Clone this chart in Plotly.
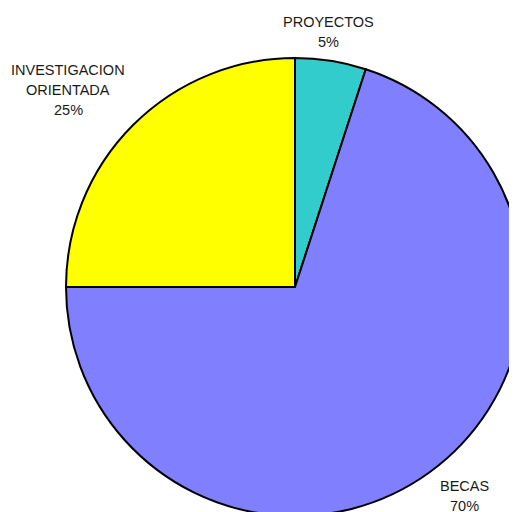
import plotly.graph_objects as go

categories = ["PROYECTOS", "BECAS", "INVESTIGACION ORIENTADA"]
values = [5, 70, 25]
colors = ["#33CCCC", "#8080FF", "#FFFF00"]
label_lines = [["PROYECTOS"], ["BECAS"], ["INVESTIGACION", "ORIENTADA"]]

W, H = 530, 530
OFF = 8  # page body margin offset
cx, cy, r = 295 - OFF, 287 - OFF, 229

fig = go.Figure(go.Pie(
    labels=categories,
    values=values,
    marker=dict(colors=colors, line=dict(color="black", width=2)),
    sort=False,
    direction="clockwise",
    rotation=0,
    textinfo="none",
    hoverinfo="label+percent",
    domain=dict(x=[(cx - r) / W, (cx + r) / W], y=[1 - (cy + r) / H, 1 - (cy - r) / H]),
))

# label anchor positions (pixel centers of first line, in page pixels)
label_pos = [(328, 22), (464, 486), (68, 70)]
line_gap = 20
total = sum(values)
annotations = []
for lines, v, (lx, ly) in zip(label_lines, values, label_pos):
    all_lines = lines + [f"{round(100 * v / total)}%"]
    for i, t in enumerate(all_lines):
        y = ly + i * line_gap - OFF
        annotations.append(dict(
            text=t, x=(lx - OFF) / W, y=1 - y / H, xref="paper", yref="paper",
            showarrow=False, xanchor="center", yanchor="middle",
            font=dict(family="Liberation Sans, Arial, sans-serif", size=14.5, color="#1a1a1a"),
        ))

fig.update_layout(
    width=W, height=H,
    margin=dict(l=0, r=0, t=0, b=0),
    paper_bgcolor="white", plot_bgcolor="white",
    showlegend=False,
    annotations=annotations,
)

fig.write_html(
    "out.html",
    post_script="document.documentElement.style.overflow='hidden';document.body.style.overflow='hidden';",
)
